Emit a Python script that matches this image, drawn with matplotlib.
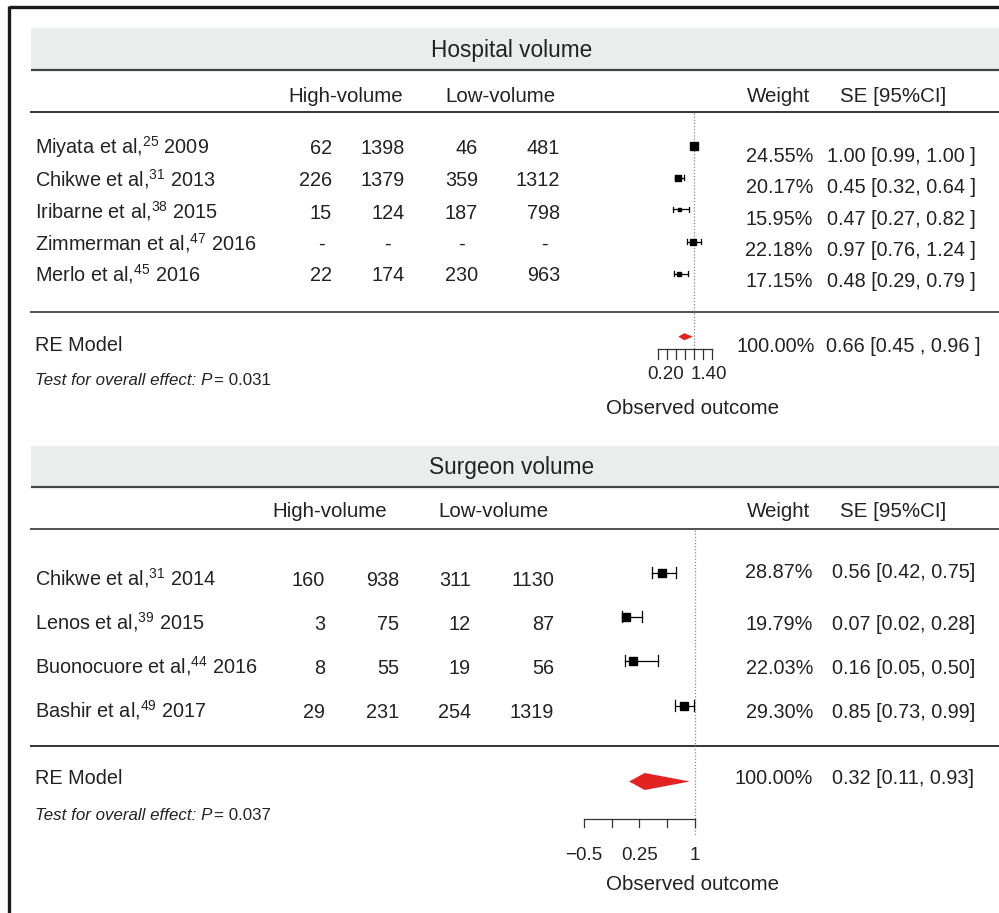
import matplotlib.pyplot as plt
from matplotlib.patches import Rectangle, Polygon

plt.rcParams['font.family'] = ['Liberation Sans', 'DejaVu Sans']
plt.rcParams['mathtext.fontset'] = 'custom'
plt.rcParams['mathtext.rm'] = 'Liberation Sans'
plt.rcParams['mathtext.it'] = 'Liberation Sans:italic'

W, H = 999, 913
TXT = '#222222'

# Hospital volume studies
hosp_authors = ['Miyata et al', 'Chikwe et al', 'Iribarne et al', 'Zimmerman et al', 'Merlo et al']
hosp_refs = [25, 31, 38, 47, 45]
hosp_years = [2009, 2013, 2015, 2016, 2016]
hosp_high_events = [62, 226, 15, None, 22]
hosp_high_total = [1398, 1379, 124, None, 174]
hosp_low_events = [46, 359, 187, None, 230]
hosp_low_total = [481, 1312, 798, None, 963]
hosp_weights = [24.55, 20.17, 15.95, 22.18, 17.15]
hosp_est = [1.00, 0.45, 0.47, 0.97, 0.48]
hosp_lo = [0.99, 0.32, 0.27, 0.76, 0.29]
hosp_hi = [1.00, 0.64, 0.82, 1.24, 0.79]
hosp_re = [0.66, 0.45, 0.96]
hosp_p = '0.031'

# Surgeon volume studies
surg_authors = ['Chikwe et al', 'Lenos et al', 'Buonocuore et al', 'Bashir et al']
surg_refs = [31, 39, 44, 49]
surg_years = [2014, 2015, 2016, 2017]
surg_high_events = [160, 3, 8, 29]
surg_high_total = [938, 75, 55, 231]
surg_low_events = [311, 12, 19, 254]
surg_low_total = [1130, 87, 56, 1319]
surg_weights = [28.87, 19.79, 22.03, 29.30]
surg_est = [0.56, 0.07, 0.16, 0.85]
surg_lo = [0.42, 0.02, 0.05, 0.73]
surg_hi = [0.75, 0.28, 0.50, 0.99]
surg_re = [0.32, 0.11, 0.93]
surg_p = '0.037'

hosp_ticks = [-0.25, 0.0625, 0.375, 0.6875, 1.0, 1.3125, 1.625]
surg_ticks = [-0.5, -0.125, 0.25, 0.625, 1.0]
surg_tick_labels = {-0.5: '\u22120.5', 0.25: '0.25', 1.0: '1'}

FS = 14.3
HEAD_FS = 14.8


def px_axes(fig):
    ax = fig.add_axes([0, 0, 1, 1])
    ax.set_xlim(0, W)
    ax.set_ylim(H, 0)
    ax.axis('off')
    return ax


def forest_axes(fig, zero_px, scale):
    # value axis laid over the whole figure: value v sits at zero_px + scale * v
    ax = fig.add_axes([0, 0, 1, 1])
    ax.set_xlim(-zero_px / scale, (W - zero_px) / scale)
    ax.set_ylim(H, 0)
    ax.axis('off')
    ax.patch.set_alpha(0)
    return ax


def band(ax, y0, y1, title):
    ax.add_patch(Rectangle((31, y0), W - 31, y1 - y0, color='#ebecec', lw=0))
    ax.plot([31, W], [y1, y1], color='#444444', lw=1.6, solid_capstyle='butt')
    ax.text(512, (y0 + y1) / 2 + 1, title, ha='center', va='center', fontsize=16.3, color=TXT)


def hline(ax, y, lw=1.2, color='#111111'):
    ax.plot([30, W], [y, y], color=color, lw=lw, solid_capstyle='butt')


def fmt_ci(est, lo, hi, spaced):
    if spaced:
        return f'{est:.2f} [{lo:.2f}, {hi:.2f} ]'
    return f'{est:.2f} [{lo:.2f}, {hi:.2f}]'


def study_table(ax, rows_y, wrows_y, authors, refs, years, cols, num_x, weights,
                est, lo, hi, w_right, se_left, spaced, dash_x):
    for i, y in enumerate(rows_y):
        ax.text(35, y + 6.7, f'{authors[i]},$^{{{refs[i]}}}$ {years[i]}',
                ha='left', va='baseline', fontsize=FS, color=TXT)
        for j, col in enumerate(cols):
            v = col[i]
            if v is None:
                ax.text(dash_x[j], y + 6.7, '-', ha='center', va='baseline',
                        fontsize=FS, color=TXT)
            else:
                ax.text(num_x[j], y + 6.7, str(v), ha='right', va='baseline',
                        fontsize=FS, color=TXT)
        wy = wrows_y[i]
        ax.text(w_right, wy + 6.7, f'{weights[i]:.2f}%', ha='right', va='baseline',
                fontsize=FS, color=TXT)
        ax.text(se_left, wy + 6.7, fmt_ci(est[i], lo[i], hi[i], spaced),
                ha='left', va='baseline', fontsize=FS, color=TXT)


def overall_text(ax, y_re, y_test, p):
    ax.text(35, y_re + 6.7, 'RE Model', ha='left', va='baseline', fontsize=FS, color=TXT)
    t = ax.text(35, y_test + 5, 'Test for overall effect: P', ha='left', va='baseline',
                fontsize=12.2, style='italic', color=TXT)
    ax.annotate('= ' + p, xy=(1, 0), xycoords=t, xytext=(1, 0), textcoords='offset points',
                ha='left', va='bottom', fontsize=12.2, color=TXT)


def forest(ax, rows_y, est, lo, hi, sizes, cap):
    for i, y in enumerate(rows_y):
        ax.plot([lo[i], hi[i]], [y, y], color='black', lw=0.9)
        ax.plot([lo[i], lo[i]], [y - cap / 2, y + cap / 2], color='black', lw=0.9)
        ax.plot([hi[i], hi[i]], [y - cap / 2, y + cap / 2], color='black', lw=0.9)
        ax.plot(est[i], y, marker='s', color='black', markersize=sizes[i] * 0.72, lw=0)


def diamond(ax, y, re, height):
    est, lo, hi = re
    ax.add_patch(Polygon([(lo, y), (est, y - height / 2), (hi, y), (est, y + height / 2)],
                         closed=True, color='#e32222', lw=0))


def value_axis(ax, y, ticks, tick_len):
    ax.plot([ticks[0], ticks[-1]], [y, y], color='#333333', lw=0.9)
    for t in ticks:
        ax.plot([t, t], [y, y + tick_len], color='#333333', lw=0.9)


fig = plt.figure(figsize=(W / 100, H / 100), dpi=100)
ax = px_axes(fig)

# outer frame (top and left edges)
ax.plot([9, W + 5], [7.5, 7.5], color='#1a1a1a', lw=2.4, solid_capstyle='butt')
ax.plot([9, 9], [6, H], color='#1a1a1a', lw=2.4, solid_capstyle='butt')

# ---- hospital volume panel ----
band(ax, 28, 70.5, 'Hospital volume')
for x, lab in [(345.5, 'High-volume'), (500, 'Low-volume'), (778.5, 'Weight'), (893, 'SE [95%CI]')]:
    ax.text(x, 95 + 6.7, lab, ha='center', va='baseline', fontsize=HEAD_FS, color=TXT)
hline(ax, 112.5)
hosp_rows = [147, 179.5, 212, 243.5, 274.5]
hosp_wrows = [155, 186.7, 218.3, 249.3, 280]
study_table(ax, hosp_rows, hosp_wrows, hosp_authors, hosp_refs, hosp_years,
            [hosp_high_events, hosp_high_total, hosp_low_events, hosp_low_total],
            [332, 405, 478, 560], hosp_weights, hosp_est, hosp_lo, hosp_hi,
            813, 827, True, [321, 387, 461, 544])
hline(ax, 312.5, color='#333333')
overall_text(ax, 344, 380, hosp_p)
ax.text(815, 345 + 6.7, '100.00%', ha='right', va='baseline', fontsize=FS, color=TXT)
ax.text(826, 345 + 6.7, f'{hosp_re[0]:.2f} [{hosp_re[1]:.2f} , {hosp_re[2]:.2f} ]',
        ha='left', va='baseline', fontsize=FS, color=TXT)

fa = forest_axes(fig, 665.5, 28.5)
fa.plot([1, 1], [113, 349], color='#888888', lw=0.9, ls=(0, (1, 1.5)))
wmin, wmax = min(hosp_weights), max(hosp_weights)
hosp_sizes = [3 + (w - wmin) / (wmax - wmin) * 4.7 for w in hosp_weights]
forest(fa, [145.7, 177.7, 209.3, 241.7, 274], hosp_est, hosp_lo, hosp_hi, hosp_sizes, 5)
diamond(fa, 336.7, hosp_re, 7)
value_axis(fa, 349.5, hosp_ticks, 9.5)
fa.text(0.0175, 374.5, '0.20', ha='center', va='center', fontsize=13.5, color=TXT)
fa.text(1.52, 374.5, '1.40', ha='center', va='center', fontsize=13.5, color=TXT)
ax.text(692, 408, 'Observed outcome', ha='center', va='center', fontsize=14.8, color=TXT)

# ---- surgeon volume panel ----
band(ax, 446, 487.5, 'Surgeon volume')
for x, lab in [(329.5, 'High-volume'), (493.5, 'Low-volume'), (778.5, 'Weight'), (893, 'SE [95%CI]')]:
    ax.text(x, 510 + 6.7, lab, ha='center', va='baseline', fontsize=HEAD_FS, color=TXT)
hline(ax, 529.5, color='#333333')
surg_rows = [579, 623, 667, 711]
surg_wrows = [571, 623, 667, 711]
study_table(ax, surg_rows, surg_wrows, surg_authors, surg_refs, surg_years,
            [surg_high_events, surg_high_total, surg_low_events, surg_low_total],
            [325, 399, 471, 554], surg_weights, surg_est, surg_lo, surg_hi,
            813, 832, False, [0, 0, 0, 0])
hline(ax, 746.5)
overall_text(ax, 777, 815, surg_p)
ax.text(813, 777 + 6.7, '100.00%', ha='right', va='baseline', fontsize=FS, color=TXT)
ax.text(832, 777 + 6.7, fmt_ci(*surg_re, False), ha='left', va='baseline',
        fontsize=FS, color=TXT)

fb = forest_axes(fig, 621, 74)
fb.plot([1, 1], [530, 835], color='#888888', lw=0.9, ls=(0, (1, 1.5)))
forest(fb, [572.7, 616.7, 660.7, 705.7], surg_est, surg_lo, surg_hi, [7.7] * 4, 11)
diamond(fb, 781.5, surg_re, 17)
value_axis(fb, 819.5, surg_ticks, 8)
for t in surg_ticks:
    if t in surg_tick_labels:
        fb.text(t, 855, surg_tick_labels[t], ha='center', va='center', fontsize=13.5, color=TXT)
ax.text(692, 885, 'Observed outcome', ha='center', va='center', fontsize=14.8, color=TXT)

fig.savefig('out.png', dpi=100)
